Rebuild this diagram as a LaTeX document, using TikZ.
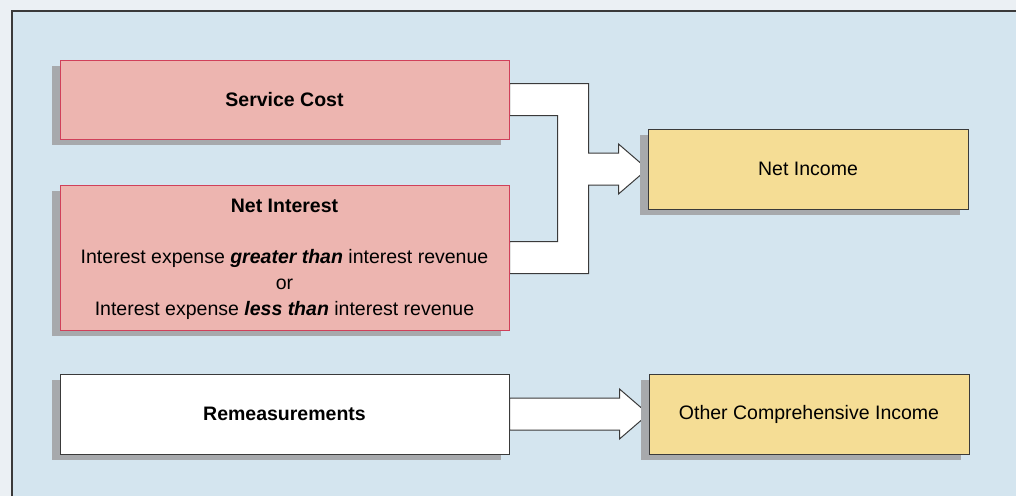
\documentclass[tikz,border=0pt]{standalone}
\usepackage{fontspec}
\setmainfont{Liberation Sans}
\usetikzlibrary{positioning,shadows,calc,backgrounds}
\definecolor{pagebg}{HTML}{EBF0F4}
\definecolor{panelbg}{HTML}{D4E5EF}
\definecolor{costfill}{HTML}{EDB5B0}
\definecolor{costline}{HTML}{D0405A}
\definecolor{incfill}{HTML}{F5DD95}
\definecolor{shadowgray}{HTML}{A7A9AC}
\definecolor{edgegray}{HTML}{3A3A3A}
\begin{document}
\begin{tikzpicture}[
        x=1pt, y=-1pt,
        every node/.style={align=center, font=\fontsize{19.5}{26}\selectfont, inner sep=0pt, line width=1pt},
        box/.style={general shadow={fill=shadowgray, shadow xshift=-8pt, shadow yshift=-6pt}},
        fuente/.style={box, draw=costline, fill=costfill, minimum width=449pt, minimum height=79pt},
        neutro/.style={box, draw=edgegray, fill=white, minimum width=449pt, minimum height=80pt},
        destino/.style={box, draw=edgegray, fill=incfill, minimum width=320pt, minimum height=80pt},
        flecha/.style={draw=edgegray, fill=white, line width=1pt, line join=miter}
    ]
    \useasboundingbox (0,0) rectangle (1016,496);

    \node (sc) [fuente] at (284.5,99.5) {\textbf{Service Cost}};
    \node (ni) [fuente, below=45pt of sc, minimum height=145pt, text depth=0pt] {\textbf{Net Interest}\\[25pt]
        Interest expense \textbf{\textit{greater than}} interest revenue\\
        or\\
        Interest expense \textbf{\textit{less than}} interest revenue};
    \node (rm) [neutro, below=43pt of ni] {\textbf{Remeasurements}};
    \node (inc) [destino] at (808,169) {Net Income};
    \node (oci) [destino, right=139pt of rm] {Other Comprehensive Income};

    \begin{scope}[on background layer]
    \fill[pagebg] (0,0) rectangle (1016,496);
    \fill[panelbg] (12,11) rectangle (1016,496);
    \draw[edgegray, line width=1.2pt] (12,496) -- (12,11) -- (1016,11);
    \draw [flecha] ($(sc.east)+(0,-16)$) -- ($(sc.east)+(79,-16)$) |- ($(inc.west)+(-29,-16)$)
        -- ++(0,-9) -- (inc.west) -- ++(-29,25) -- ++(0,-9) -| ($(ni.east)+(79,16)$)
        -- ($(ni.east)+(0,16)$) -- ($(ni.east)+(0,-16)$) -- ($(ni.east)+(48,-16)$)
        |- ($(sc.east)+(0,16)$) -- cycle;
    \draw [flecha] ($(rm.east)+(0,-16)$) -- ($(oci.west)+(-29,-16)$) -- ++(0,-9) -- (oci.west)
        -- ++(-29,25) -- ++(0,-9) -- ($(rm.east)+(0,16)$) -- cycle;
    \end{scope}
\end{tikzpicture}
\end{document}
